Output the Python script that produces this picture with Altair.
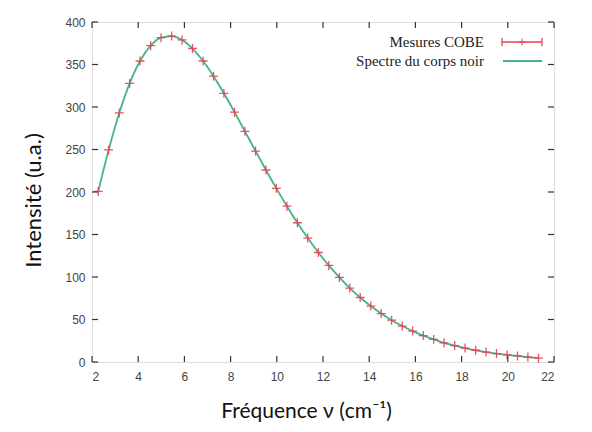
import altair as alt
import pandas as pd

freq = [2.27, 2.72, 3.18, 3.63, 4.08, 4.54, 4.99, 5.45, 5.90, 6.35, 6.81,
        7.26, 7.71, 8.17, 8.62, 9.08, 9.53, 9.98, 10.44, 10.89, 11.34, 11.80,
        12.25, 12.71, 13.16, 13.61, 14.07, 14.52, 14.97, 15.43, 15.88, 16.34,
        16.79, 17.24, 17.70, 18.15, 18.61, 19.06, 19.51, 19.97, 20.42, 20.87, 21.33]
intensity = [200.7, 249.5, 293.0, 327.8, 354.1, 372.1, 381.5, 383.5, 378.9, 368.8, 354.1,
             336.3, 316.1, 293.9, 271.4, 248.2, 225.9, 204.3, 183.3, 163.8, 145.8, 128.8,
             113.6, 99.5, 87.0, 75.9, 65.8, 57.0, 49.2, 42.3, 36.4, 31.1,
             26.6, 22.6, 19.3, 16.4, 13.8, 11.7, 9.9, 8.4, 7.1, 5.8, 4.5]

x_ticks = [2, 4, 6, 8, 10, 12, 14, 16, 18, 20, 22]
y_ticks = [0, 50, 100, 150, 200, 250, 300, 350, 400]
legend_labels = ["Mesures COBE", "Spectre du corps noir"]

RED = "#e8414f"
GREEN = "#46b38e"
W, H = 462, 340

df = pd.DataFrame({"f": freq, "I": intensity})
xt = pd.DataFrame({"t": x_ticks})
yt = pd.DataFrame({"t": y_ticks})
one = pd.DataFrame({"a": [0]})

xscale = alt.Scale(domain=[2, 22], nice=False)
yscale = alt.Scale(domain=[0, 400], nice=False)

xaxis = alt.Axis(values=x_ticks, ticks=False, domain=False, grid=False,
                 labelPadding=9, labelFont="Liberation Sans", labelFontSize=12,
                 labelColor="#444", title="Fréquence ν (cm⁻¹)",
                 titleFont="Lato", titleFontSize=21, titleFontWeight="normal",
                 titleColor="#111", titleX=214, titleY=49, titleAnchor="start",
                 titleAlign="center", titleBaseline="middle")
yaxis = alt.Axis(values=y_ticks, ticks=False, domain=False, grid=False,
                 labelPadding=7, labelFont="Liberation Sans", labelFontSize=12,
                 labelColor="#444", title="Intensité (u.a.)",
                 titleFont="Lato", titleFontSize=22, titleFontWeight="normal",
                 titleColor="#111", titleX=-59, titleY=178, titleAngle=270,
                 titleAlign="center", titleBaseline="middle")

line = alt.Chart(df).mark_line(color=GREEN, strokeWidth=1.8, interpolate="monotone").encode(
    x=alt.X("f:Q", scale=xscale, axis=xaxis),
    y=alt.Y("I:Q", scale=yscale, axis=yaxis),
)

plus = "M-1,0H1M0,-1V1"
points = alt.Chart(df).mark_point(shape=plus, size=80, color=RED, strokeWidth=1.3,
                                  filled=False, opacity=0.9).encode(
    x=alt.X("f:Q", scale=xscale),
    y=alt.Y("I:Q", scale=yscale),
)

tick_style = dict(color="#333", strokeWidth=1.2)
left_ticks = alt.Chart(yt).mark_rule(**tick_style).encode(
    x=alt.value(0), x2=alt.value(6), y=alt.Y("t:Q", scale=yscale))
right_ticks = alt.Chart(yt).mark_rule(**tick_style).encode(
    x=alt.value(W - 6), x2=alt.value(W), y=alt.Y("t:Q", scale=yscale))
bottom_ticks = alt.Chart(xt).mark_rule(**tick_style).encode(
    y=alt.value(H), y2=alt.value(H - 6), x=alt.X("t:Q", scale=xscale))
top_ticks = alt.Chart(xt).mark_rule(**tick_style).encode(
    y=alt.value(0), y2=alt.value(6), x=alt.X("t:Q", scale=xscale))

leg_text1 = alt.Chart(one).mark_text(text=legend_labels[0], font="Liberation Serif",
                                     fontSize=15, align="right", baseline="middle",
                                     color="#222").encode(x=alt.value(392), y=alt.value(20))
leg_text2 = alt.Chart(one).mark_text(text=legend_labels[1], font="Liberation Serif",
                                     fontSize=15, align="right", baseline="middle",
                                     color="#222").encode(x=alt.value(392), y=alt.value(39))
leg_red = alt.Chart(one).mark_rule(color=RED, strokeWidth=1.3).encode(
    x=alt.value(410), x2=alt.value(450), y=alt.value(20))
leg_cap1 = alt.Chart(one).mark_rule(color=RED, strokeWidth=1.3).encode(
    x=alt.value(410), y=alt.value(16), y2=alt.value(24))
leg_cap2 = alt.Chart(one).mark_rule(color=RED, strokeWidth=1.3).encode(
    x=alt.value(450), y=alt.value(16), y2=alt.value(24))
leg_plus = alt.Chart(one).mark_point(shape=plus, size=50, color=RED, strokeWidth=1.3,
                                     filled=False).encode(x=alt.value(430), y=alt.value(20))
leg_green = alt.Chart(one).mark_rule(color=GREEN, strokeWidth=1.8).encode(
    x=alt.value(411), x2=alt.value(450), y=alt.value(39))

chart = alt.layer(
    line, points, left_ticks, right_ticks, bottom_ticks, top_ticks,
    leg_text1, leg_text2, leg_red, leg_cap1, leg_cap2, leg_plus, leg_green,
).properties(
    width=W, height=H,
    padding={"left": 84, "top": 14, "right": 20, "bottom": 62},
    autosize=alt.AutoSizeParams(type="none"),
).configure_view(
    stroke="#333", strokeWidth=1.5
).configure(background="white")

chart.save("out.html", embed_options={"renderer": "svg", "actions": False})
